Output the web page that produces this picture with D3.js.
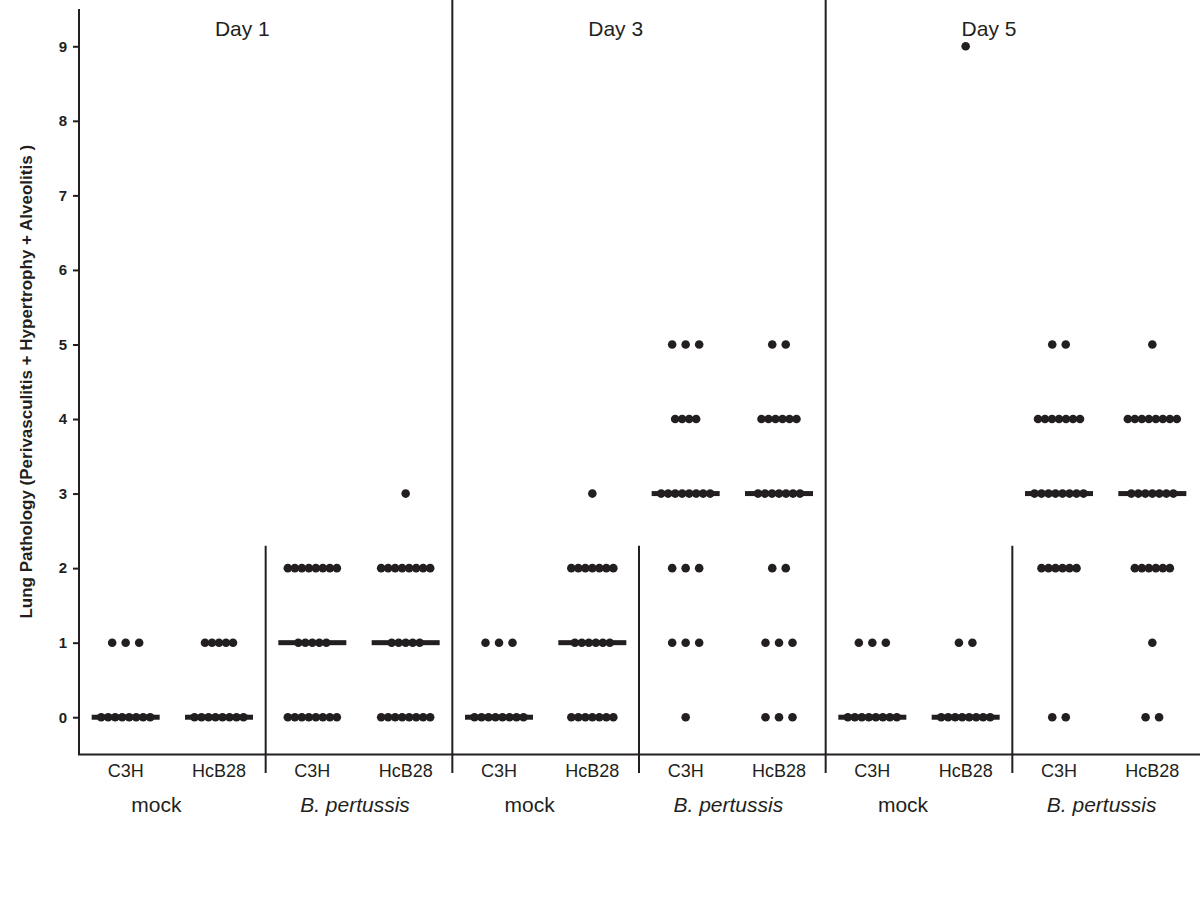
<!DOCTYPE html>
<html>
<head>
<meta charset="utf-8">
<script src="https://cdn.jsdelivr.net/npm/d3@7"></script>
<style>
  body { margin: 0; background: #fff; }
  text { font-family: "Liberation Sans", Arial, sans-serif; fill: #231f20; }
</style>
</head>
<body>
<div id="chart"></div>
<script>
// categories
var days = ["Day 1", "Day 3", "Day 5"];
var treatments = ["mock", "B. pertussis"];
var strains = ["C3H", "HcB28"];
var yTicks = [0, 1, 2, 3, 4, 5, 6, 7, 8, 9];

// number of animals at each score 0..9, one row per group (day > treatment > strain)
var counts = [
  [8, 3],                         // Day 1 mock C3H
  [8, 5],                         // Day 1 mock HcB28
  [8, 5, 8],                      // Day 1 B.p. C3H
  [8, 5, 8, 1],                   // Day 1 B.p. HcB28
  [8, 3],                         // Day 3 mock C3H
  [7, 6, 7, 1],                   // Day 3 mock HcB28
  [1, 3, 3, 8, 4, 3],             // Day 3 B.p. C3H
  [3, 3, 2, 7, 6, 2],             // Day 3 B.p. HcB28
  [8, 3],                         // Day 5 mock C3H
  [8, 2, 0, 0, 0, 0, 0, 0, 0, 1], // Day 5 mock HcB28
  [2, 0, 6, 8, 7, 2],             // Day 5 B.p. C3H
  [2, 1, 6, 7, 8, 1]              // Day 5 B.p. HcB28
];
var medians = [0, 0, 1, 1, 0, 1, 3, 3, 0, 0, 3, 3];

var width = 1200;
var height = 913;
var ink = "#231f20";

// build the group list from the categories
var groups = [];
days.forEach(function(d) {
  treatments.forEach(function(t) {
    strains.forEach(function(s) {
      groups.push({ day: d, treat: t, strain: s, id: d + "|" + t + "|" + s });
    });
  });
});
groups.forEach(function(g, i) { g.counts = counts[i]; g.median = medians[i]; });

var svg = d3.select("#chart").append("svg")
    .attr("width", width)
    .attr("height", height);

var x = d3.scaleBand()
    .domain(groups.map(function(g) { return g.id; }))
    .range([79, 1199]);

var y = d3.scaleLinear()
    .domain([-0.5, 9.5])
    .range([754.5, 9]);

var cx = function(g) { return x(g.id) + x.bandwidth() / 2; };

// y axis
var yAxis = d3.axisLeft(y).tickValues(yTicks).tickSize(6).tickPadding(6);
var ya = svg.append("g")
    .attr("transform", "translate(79,0)")
    .call(yAxis);
ya.attr("font-size", null).attr("font-family", null);
ya.select(".domain").attr("stroke", ink).attr("stroke-width", 2).attr("d", "M0," + y(9.5) + "V" + y(-0.5));
ya.selectAll(".tick line").attr("stroke", ink).attr("stroke-width", 2);
ya.selectAll(".tick text")
    .style("font-size", "15px")
    .style("font-weight", "bold")
    .attr("fill", ink);

// x axis line
svg.append("line")
    .attr("x1", 78).attr("x2", 1200)
    .attr("y1", y(-0.5)).attr("y2", y(-0.5))
    .attr("stroke", ink).attr("stroke-width", 2);

// y axis title
svg.append("text")
    .attr("transform", "translate(32," + y(4.5) + ") rotate(-90)")
    .attr("text-anchor", "middle")
    .style("font-size", "17px")
    .style("font-weight", "bold")
    .text("Lung Pathology (Perivasculitis + Hypertrophy + Alveolitis )");

// separators: full between days, partial between treatments
for (var i = 1; i < groups.length / 2; i++) {
  var gx = x(groups[i * 2].id);
  var full = i % 2 == 0;
  svg.append("line")
      .attr("x1", gx).attr("x2", gx)
      .attr("y1", full ? 0 : y(2.3))
      .attr("y2", 773)
      .attr("stroke", ink).attr("stroke-width", 2);
}

// dots
var dots = [];
groups.forEach(function(g) {
  g.counts.forEach(function(n, score) {
    var step = n <= 3 ? 13.5 : 7;
    for (var k = 0; k < n; k++) {
      dots.push({ x: cx(g) + (k - (n - 1) / 2) * step, score: score });
    }
  });
});

svg.append("g").selectAll("circle")
    .data(dots)
  .enter().append("circle")
    .attr("cx", function(d) { return d.x; })
    .attr("cy", function(d) { return y(d.score); })
    .attr("r", 4.3)
    .attr("fill", ink);

// median bars
svg.append("g").selectAll("rect")
    .data(groups)
  .enter().append("rect")
    .attr("x", function(g) { return cx(g) - 34; })
    .attr("y", function(g) { return y(g.median) - 2.5; })
    .attr("width", 68)
    .attr("height", 5)
    .attr("fill", ink);

// strain labels
svg.append("g").selectAll("text")
    .data(groups)
  .enter().append("text")
    .attr("x", function(g) { return cx(g); })
    .attr("y", 777)
    .attr("text-anchor", "middle")
    .style("font-size", "18px")
    .text(function(g) { return g.strain; });

// treatment labels (mock sits a bit left of the pair centre in the original)
var pairs = groups.filter(function(g, i) { return i % 2 == 0; });
svg.append("g").selectAll("text")
    .data(pairs)
  .enter().append("text")
    .attr("x", function(g) { return x(g.id) + x.bandwidth() - (g.treat == "mock" ? 16 : 4); })
    .attr("y", 812)
    .attr("text-anchor", "middle")
    .style("font-size", "21px")
    .style("font-style", function(g) { return g.treat == "mock" ? "normal" : "italic"; })
    .text(function(g) { return g.treat; });

// day labels
var dayStarts = groups.filter(function(g, i) { return i % 4 == 0; });
svg.append("g").selectAll("text")
    .data(dayStarts)
  .enter().append("text")
    .attr("x", function(g) { return x(g.id) + x.bandwidth() * 1.75; })
    .attr("y", 36)
    .attr("text-anchor", "middle")
    .style("font-size", "21px")
    .text(function(g) { return g.day; });
</script>
</body>
</html>
